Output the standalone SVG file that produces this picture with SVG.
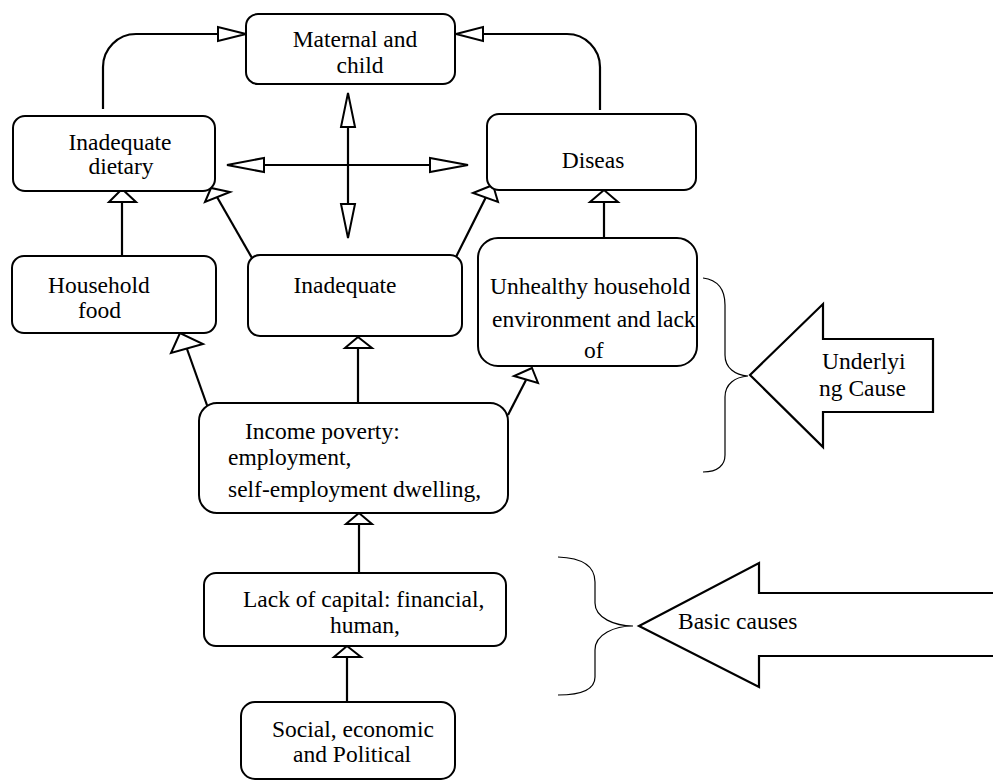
<svg xmlns="http://www.w3.org/2000/svg" width="993" height="781" viewBox="0 0 993 781">
<style>
.box{fill:#fff;stroke:#000;stroke-width:2}
.ln{fill:none;stroke:#000;stroke-width:2.2}
.ah{fill:#fff;stroke:#000;stroke-width:2;stroke-linejoin:miter}
.br{fill:none;stroke:#000;stroke-width:1.2}
.blk{fill:#fff;stroke:#000;stroke-width:2.2}
text{font-family:"Liberation Serif","Times New Roman",Times,serif;font-size:23.5px;fill:#000}
.c{text-anchor:middle}
</style>
<rect width="993" height="781" fill="#fff"/>
<g id="connectors">
<path class="ln" d="M103,109 V67 A33,33 0 0 1 136,34 H218"/>
<polygon class="ah" points="246,34 218,27 218,41"/>
<path class="ln" d="M600,110 V67 A33,33 0 0 0 567,34 H483"/>
<polygon class="ah" points="456,34 483,27 483,41"/>
<line class="ln" x1="348" y1="127" x2="348" y2="204"/>
<polygon class="ah" points="348,93 341,127 355,127"/>
<polygon class="ah" points="348,238 341,204 355,204"/>
<line class="ln" x1="264" y1="165" x2="430" y2="165"/>
<polygon class="ah" points="227,165 264,158 264,172"/>
<polygon class="ah" points="468,165 430,158 430,172"/>
<line class="ln" x1="122" y1="256" x2="122" y2="202"/>
<polygon class="ah" points="122,189 109,202 136,202"/>
<line class="ln" x1="252" y1="258" x2="217" y2="197"/>
<polygon class="ah" points="211,188 205,202 230,192"/>
<line class="ln" x1="456" y1="257" x2="486" y2="197"/>
<polygon class="ah" points="493,185 473,193 498,202"/>
<line class="ln" x1="208" y1="408" x2="187" y2="349"/>
<polygon class="ah" points="180,333 171,353 203,344"/>
<line class="ln" x1="358" y1="403" x2="358" y2="348"/>
<polygon class="ah" points="358,337 345,348 372,348"/>
<line class="ln" x1="508" y1="415" x2="526" y2="380"/>
<polygon class="ah" points="532,368 514,376 538,383"/>
<line class="ln" x1="604" y1="238" x2="604" y2="202"/>
<polygon class="ah" points="604,190 590,202 618,202"/>
<line class="ln" x1="359" y1="573" x2="359" y2="524"/>
<polygon class="ah" points="359,513 346,524 372,524"/>
<line class="ln" x1="347" y1="702" x2="347" y2="657"/>
<polygon class="ah" points="347,646 334,657 361,657"/>
</g>
<g id="maternal">
<rect class="box" x="246" y="14" width="209" height="70" rx="12"/>
<text class="c" x="355" y="47">Maternal and</text>
<text class="c" x="360" y="73">child</text>
</g>
<g id="dietary">
<rect class="box" x="13" y="116" width="202" height="75" rx="12"/>
<text class="c" x="120" y="150">Inadequate</text>
<text class="c" x="121" y="174">dietary</text>
</g>
<g id="disease">
<rect class="box" x="487" y="114" width="209" height="76" rx="12"/>
<text class="c" x="593" y="168">Diseas</text>
</g>
<g id="household">
<rect class="box" x="12" y="256" width="204" height="77" rx="12"/>
<text x="48" y="293">Household</text>
<text x="78" y="318">food</text>
</g>
<g id="inadequate">
<rect class="box" x="248" y="255" width="214" height="81" rx="12"/>
<text class="c" x="345" y="293">Inadequate</text>
</g>
<g id="unhealthy">
<rect class="box" x="478" y="238" width="219" height="128" rx="20"/>
<text x="490" y="294">Unhealthy household</text>
<text x="492" y="327">environment and lack</text>
<text x="584" y="358">of</text>
</g>
<g id="income">
<rect class="box" x="199" y="403" width="309" height="110" rx="18"/>
<text x="245" y="439">Income poverty:</text>
<text x="228" y="465">employment,</text>
<text x="228" y="497">self-employment dwelling,</text>
</g>
<g id="capital">
<rect class="box" x="204" y="573" width="302" height="73" rx="12"/>
<text x="243" y="607">Lack of capital: financial,</text>
<text x="330" y="633">human,</text>
</g>
<g id="social">
<rect class="box" x="241" y="702" width="214" height="77" rx="14"/>
<text x="272" y="737">Social, economic</text>
<text x="293" y="762">and Political</text>
</g>
<g id="underlying">
<path class="br" d="M703,278 C718,280 725,290 725,305 V355 C725,368 735,375 748,376 C735,377 725,384 725,397 V455 C725,465 718,472 703,472"/>
<polygon class="blk" points="750,375 823,304 823,339 933,339 933,412 823,412 823,447"/>
<text x="822" y="369">Underlyi</text>
<text x="819" y="396">ng Cause</text>
</g>
<g id="basic">
<path class="br" d="M558,557 C585,558 595,568 595,582 V603 C595,618 615,626 633,626 C615,626 595,634 595,650 V677 C595,688 585,695 558,695"/>
<path class="blk" d="M994,593 H759 V563 L639,626 L759,687 V656 H994"/>
<text x="678" y="629">Basic causes</text>
</g>
</svg>
